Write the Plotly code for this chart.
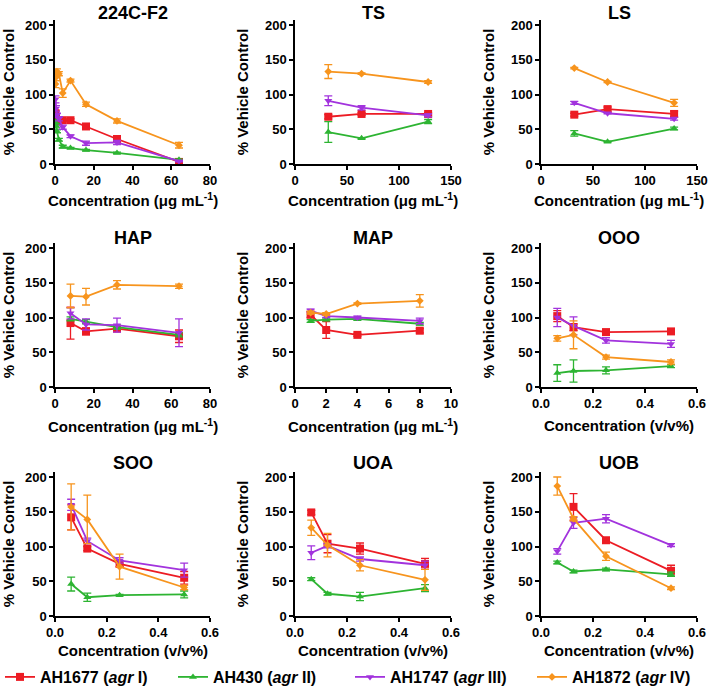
import plotly.graph_objects as go

# ---------------- data ----------------
series_names = ["AH1677 (<i>agr</i> I)", "AH430 (<i>agr</i> II)",
                "AH1747 (<i>agr</i> III)", "AH1872 (<i>agr</i> IV)"]
colors = ["#ec1c24", "#2db432", "#a233dd", "#f7941d"]
symbols = ["square", "triangle-up", "triangle-down", "diamond"]
marker_sizes = [8, 7, 7, 6]

panel_titles = ["224C-F2", "TS", "LS", "HAP", "MAP", "OOO", "SOO", "UOA", "UOB"]

x_224 = [0.25, 0.5, 1, 2, 4, 8, 16, 32, 64]
y_224 = [[73, 65, 62, 63, 63, 63, 54, 36, 3],
         [60, 55, 47, 35, 25, 23, 20, 16, 6],
         [93, 80, 70, 65, 53, 40, 30, 31, 4],
         [115, 125, 133, 130, 102, 120, 86, 62, 27]]
e_224 = [[4, 4, 3, 3, 2, 2, 2, 3, 1],
         [4, 3, 2, 2, 2, 1, 1, 1, 1],
         [5, 4, 3, 3, 3, 2, 3, 3, 1],
         [5, 5, 4, 3, 6, 2, 3, 3, 4]]

x_ts = [32, 64, 128]
y_ts = [[68, 72, 72], [46, 37, 61], [91, 81, 70], [133, 130, 118]]
e_ts = [[3, 2, 2], [15, 1, 3], [7, 3, 2], [10, 1, 2]]

x_ls = [32, 64, 128]
y_ls = [[71, 79, 72], [44, 32, 51], [88, 73, 65], [138, 118, 88]]
e_ls = [[2, 3, 4], [4, 1, 2], [2, 1, 2], [1, 1, 5]]

x_hap = [8, 16, 32, 64]
y_hap = [[92, 80, 84, 73], [98, 94, 86, 75], [106, 90, 89, 78], [131, 130, 147, 145]]
e_hap = [[23, 5, 4, 9], [3, 3, 3, 3], [8, 8, 10, 20], [17, 12, 6, 3]]

x_map = [1, 2, 4, 8]
y_map = [[104, 82, 75, 81], [95, 97, 98, 91], [110, 102, 100, 95], [107, 105, 120, 124]]
e_map = [[4, 12, 2, 3], [2, 2, 2, 2], [2, 2, 2, 4], [2, 2, 1, 9]]

x_vv = [0.0625, 0.125, 0.25, 0.5]
y_ooo = [[102, 86, 79, 80], [20, 23, 24, 30], [100, 88, 67, 62], [70, 75, 43, 36]]
e_ooo = [[8, 5, 2, 4], [12, 16, 5, 2], [13, 13, 4, 5], [4, 20, 3, 3]]

y_soo = [[142, 97, 75, 55], [46, 27, 30, 31], [160, 108, 80, 66], [157, 139, 71, 41]]
e_soo = [[18, 3, 4, 9], [10, 6, 1, 5], [8, 4, 4, 10], [33, 35, 18, 3]]

y_uoa = [[149, 104, 97, 75], [53, 32, 28, 40], [91, 101, 82, 73], [127, 102, 73, 52]]
e_uoa = [[3, 13, 8, 8], [2, 2, 6, 5], [10, 3, 3, 6], [11, 17, 8, 15]]

y_uob = [[None, 157, 109, 65], [77, 64, 67, 60], [93, 134, 140, 102], [187, 140, 86, 40]]
e_uob = [[None, 19, 2, 8], [2, 2, 2, 3], [4, 8, 6, 2], [13, 3, 6, 2]]

panels = [(x_224, y_224, e_224), (x_ts, y_ts, e_ts), (x_ls, y_ls, e_ls),
          (x_hap, y_hap, e_hap), (x_map, y_map, e_map), (x_vv, y_ooo, e_ooo),
          (x_vv, y_soo, e_soo), (x_vv, y_uoa, e_uoa), (x_vv, y_uob, e_uob)]

x_ranges = [[0, 80], [0, 150], [0, 150], [0, 80], [0, 10], [0, 0.6], [0, 0.6], [0, 0.6], [0, 0.6]]
x_tickvals = [[0, 20, 40, 60, 80], [0, 50, 100, 150], [0, 50, 100, 150], [0, 20, 40, 60, 80],
              [0, 2, 4, 6, 8, 10]] + [[0, 0.2, 0.4, 0.6]] * 4
x_ticktext = [["0", "20", "40", "60", "80"], ["0", "50", "100", "150"], ["0", "50", "100", "150"],
              ["0", "20", "40", "60", "80"], ["0", "2", "4", "6", "8", "10"]] + \
             [["0.0", "0.2", "0.4", "0.6"]] * 4
y_tickvals = [0, 50, 100, 150, 200]
x_titles = ["Concentration (\u03bcg mL<sup>-1</sup>)"] * 5 + ["Concentration (v/v%)"] * 4

# ---------------- layout geometry (pixels, in window coordinates) ----------------
W, H = 708, 697
FONT = "Liberation Sans, Arial, sans-serif"
col_px = [(55, 210), (295, 451), (541, 697)]
row_px = [(20, 164), (243, 387), (472, 616)]  # top, bottom (y=0 at bottom)
title_y_px = [13, 238, 463]
xtitle_y_px = [200, 425, 650]
legend_y_px = 677
legend_x_px = [0, 173, 350, 532]
legend_ids = ["legend", "legend2", "legend3", "legend4"]


def fx(px):
    return px / W


def fy(px):
    return 1 - px / H


fig = go.Figure()
annotations = []
layout_axes = {}

for i, (xs, ys, es) in enumerate(panels):
    r, c = divmod(i, 3)
    ax_id = "" if i == 0 else str(i + 1)
    xref, yref = "x" + ax_id, "y" + ax_id
    for s in range(4):
        fig.add_trace(go.Scatter(
            x=xs, y=ys[s], mode="lines+markers",
            name=series_names[s], legend=legend_ids[s], showlegend=(i == 0),
            line=dict(color=colors[s], width=1.8),
            marker=dict(symbol=symbols[s], size=marker_sizes[s], color=colors[s]),
            error_y=dict(type="data", array=es[s], visible=True, color=colors[s],
                         thickness=1.3, width=4),
            xaxis=xref, yaxis=yref, connectgaps=True))
    x0, x1 = col_px[c]
    top, bot = row_px[r]
    ppu = (bot - (top + 5)) / 200.0
    ymax = (bot - top) / ppu
    tf = dict(family=FONT, size=13, color="black", weight="bold")
    xa = dict(domain=[fx(x0), fx(x1)], range=x_ranges[i], tickmode="array",
              tickvals=x_tickvals[i], ticktext=x_ticktext[i],
              showline=True, linecolor="black", linewidth=1.5, ticks="outside",
              ticklen=4, tickwidth=1.5, tickcolor="black", showgrid=False, zeroline=False,
              tickfont=tf, anchor=yref, fixedrange=True, automargin=False)
    ya = dict(domain=[fy(bot), fy(top)], range=[0, ymax], tickmode="array",
              tickvals=y_tickvals,
              showline=True, linecolor="black", linewidth=1.5, ticks="outside",
              ticklen=4, tickwidth=1.5, tickcolor="black", showgrid=False, zeroline=False,
              tickfont=tf,
              title=dict(text="% Vehicle Control", standoff=13,
                         font=dict(family=FONT, size=15, color="black", weight="bold")),
              anchor=xref, fixedrange=True, automargin=False)
    layout_axes["xaxis" + ax_id] = xa
    layout_axes["yaxis" + ax_id] = ya
    cx = fx((x0 + x1) / 2)
    annotations.append(dict(text="<b>%s</b>" % panel_titles[i], x=cx, y=fy(title_y_px[r]),
                            xref="paper", yref="paper", showarrow=False, xanchor="center",
                            yanchor="middle",
                            font=dict(family=FONT, size=18, color="black")))
    annotations.append(dict(text="<b>%s</b>" % x_titles[i], x=cx, y=fy(xtitle_y_px[r]),
                            xref="paper", yref="paper", showarrow=False, xanchor="center",
                            yanchor="middle",
                            font=dict(family=FONT, size=15, color="black")))

legend_layout = {}
for s, lid in enumerate(legend_ids):
    legend_layout[lid] = dict(orientation="h", x=fx(legend_x_px[s]), xanchor="left",
                              y=fy(legend_y_px), yanchor="middle", itemwidth=30,
                              bgcolor="rgba(0,0,0,0)",
                              font=dict(family=FONT, size=16, color="black", weight="bold"))

fig.update_layout(
    width=W, height=H, margin=dict(l=0, r=0, t=0, b=0),
    paper_bgcolor="white", plot_bgcolor="white",
    annotations=annotations,
    **legend_layout,
    **layout_axes)

# remove the default 8 px page margin so the figure fills the window exactly
fig.write_html("out.html", config={"displayModeBar": False},
               post_script="document.body.style.margin='0px';")
